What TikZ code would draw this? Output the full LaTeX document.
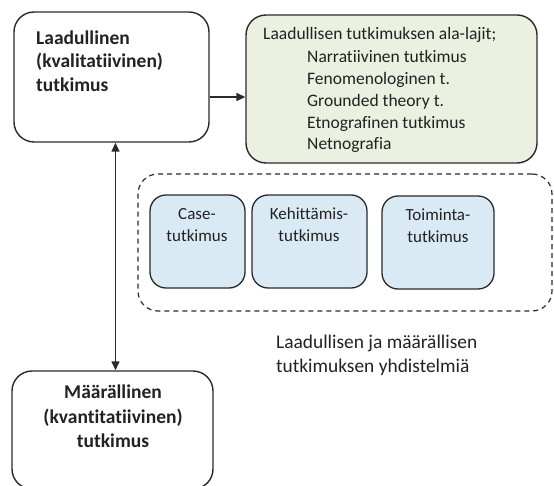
\documentclass[tikz,border=0pt]{standalone}
\usepackage{fontspec}
\setmainfont{Carlito}[Ligatures={NoCommon}]
\usetikzlibrary{arrows.meta}
\definecolor{linec}{HTML}{2A2A2A}
\definecolor{txtc}{HTML}{222222}
\definecolor{greenf}{HTML}{EBF0E0}
\definecolor{bluef}{HTML}{DAEAF5}
\tikzset{
  box/.style={draw=linec, line width=1.4pt, rounded corners=20pt, inner sep=0pt},
  smallbox/.style={draw=linec, line width=1.3pt, rounded corners=16pt, inner sep=0pt, fill=bluef},
  dashbox/.style={draw=linec, line width=1.2pt, dash pattern=on 5pt off 4pt, rounded corners=20pt, inner sep=0pt},
  btxt/.style={font=\fontsize{19.5}{23.5}\selectfont\bfseries, text=txtc, inner sep=0pt},
  ntxt/.style={font=\fontsize{17.5}{21.7}\selectfont, text=txtc, inner sep=0pt},
  ltxt/.style={font=\fontsize{19.4}{24}\selectfont, text=txtc, inner sep=0pt},
  stxt/.style={font=\fontsize{17}{22}\selectfont, text=txtc, inner sep=0pt},
  conn/.style={draw=linec, line width=1.4pt},
  tip/.tip={Triangle[length=9pt,width=8pt]}
}
\begin{document}
\begin{tikzpicture}[x=1pt,y=-1pt]
\useasboundingbox[fill=white] (0,0) rectangle (554,486);
% boxes
\node[box, minimum width=195pt, minimum height=130pt] (tl) at (111.5,77) {};
\node[box, fill=greenf, minimum width=291pt, minimum height=148pt] (gr) at (391.5,89) {};
\node[dashbox, minimum width=414pt, minimum height=137pt] (mix) at (345,242.5) {};
\node[smallbox, minimum width=95pt, minimum height=93pt] (case) at (197.5,241.5) {};
\node[smallbox, minimum width=115pt, minimum height=93pt] (keh) at (309.5,241.5) {};
\node[smallbox, minimum width=112pt, minimum height=93pt] (toim) at (438,242.5) {};
\node[box, minimum width=201pt, minimum height=118pt] (bot) at (112.5,430) {};
% top-left text
\node[btxt, anchor=base west] (tl1) at (36,45) {Laadullinen};
\node[btxt, anchor=base west] (tl2) at (36,68) {(kvalitatiivinen)};
\node[btxt, anchor=base west] (tl3) at (36,92) {tutkimus};
% green text
\node[ntxt, anchor=base west] (g0) at (263,40) {Laadullisen tutkimuksen ala-lajit;};
\node[ntxt, anchor=base west] (g1) at (307,63) {Narratiivinen tutkimus};
\node[ntxt, anchor=base west] (g2) at (307,85) {Fenomenologinen t.};
\node[ntxt, anchor=base west] (g3) at (307,107) {Grounded theory t.};
\node[ntxt, anchor=base west] (g4) at (307,128.5) {Etnografinen tutkimus};
\node[ntxt, anchor=base west] (g5) at (307,150) {Netnografia};
% blue texts
\node[stxt, anchor=base] (c1) at (197,220) {Case-};
\node[stxt, anchor=base] (c2) at (197,242) {tutkimus};
\node[stxt, anchor=base] (k1) at (309,220) {Kehittämis-};
\node[stxt, anchor=base] (k2) at (309,242) {tutkimus};
\node[stxt, anchor=base] (t1) at (438,221) {Toiminta-};
\node[stxt, anchor=base] (t2) at (438,243) {tutkimus};
% label
\node[ltxt, anchor=base west] (l1) at (276,348) {Laadullisen ja määrällisen};
\node[ltxt, anchor=base west] (l2) at (276,372) {tutkimuksen yhdistelmiä};
% bottom text
\node[btxt, anchor=base] (b1) at (113,398) {Määrällinen};
\node[btxt, anchor=base] (b2) at (113,423) {(kvantitatiivinen)};
\node[btxt, anchor=base] (b3) at (113,447) {tutkimus};
% connectors
\draw[conn, -{tip}] ([yshift=-20pt]tl.east) -- ([yshift=-20pt]tl.east -| gr.west);
\draw[conn, {tip}-{tip}] ([xshift=4pt]tl.south) -- ([xshift=4pt]tl.south |- bot.north);
\end{tikzpicture}
\end{document}
